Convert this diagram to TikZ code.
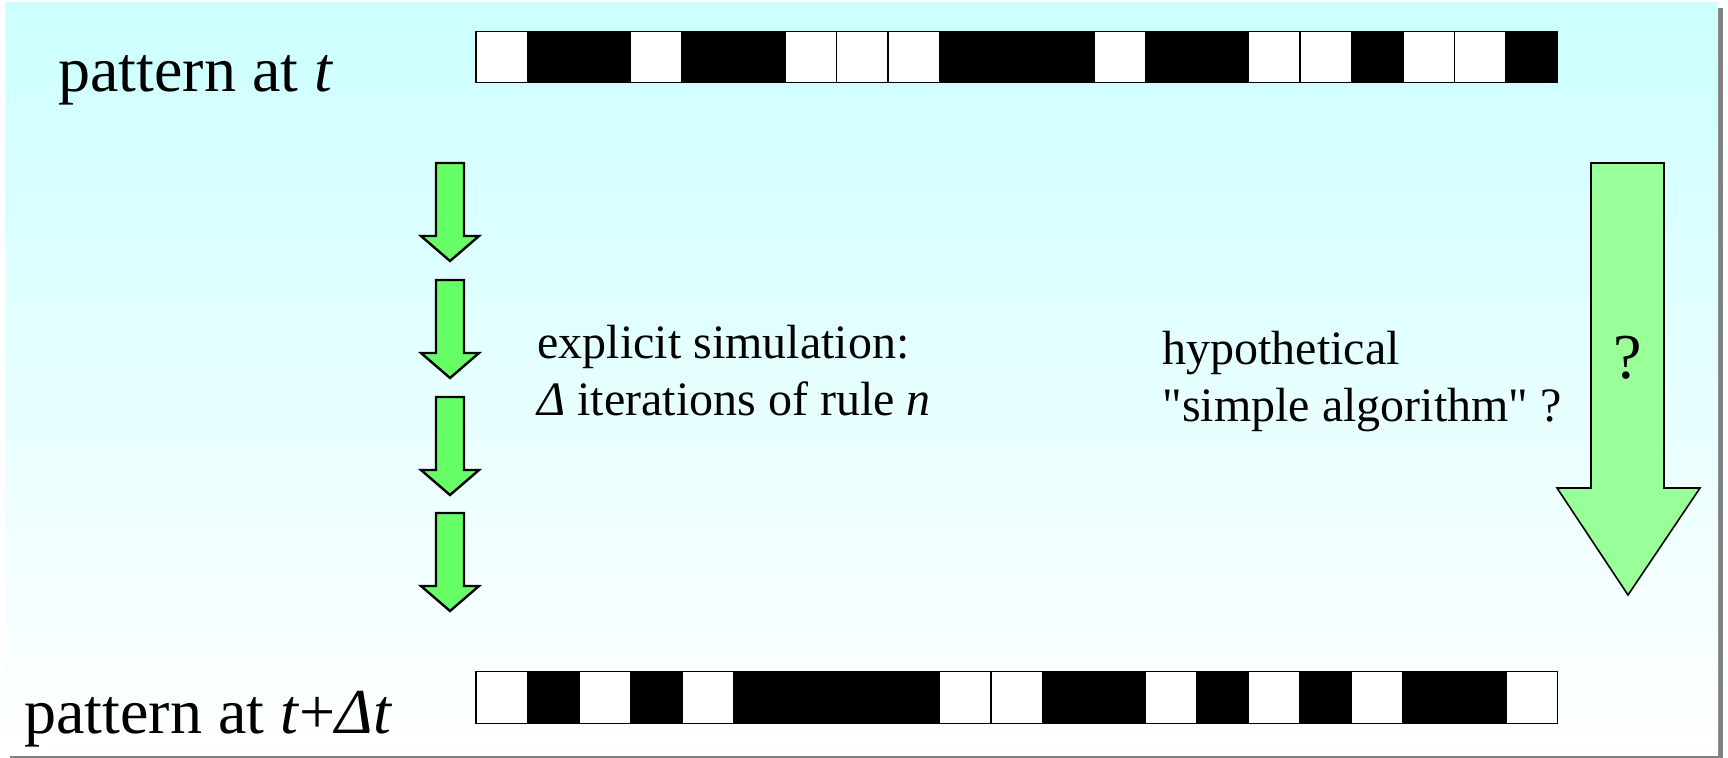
\documentclass[tikz,border=0pt]{standalone}
\usepackage{fontspec}
\setmainfont{Liberation Serif}
\usetikzlibrary{positioning}
\definecolor{slidetop}{RGB}{204,255,255}
\definecolor{slideshadow}{RGB}{128,128,128}
\definecolor{stepgreen}{RGB}{102,255,102}
\definecolor{leapgreen}{RGB}{153,255,153}
\tikzset{
    slide/.style={x=0.5pt, y=-0.5pt},
    cell/.style={draw, line width=0.6pt, minimum size=25.75pt, inner sep=0pt, outer sep=0pt},
    heading/.style={font=\fontsize{32}{36}\selectfont, inner sep=0pt, anchor=base west},
    note/.style={font=\fontsize{24}{28.5}\selectfont, align=left, inner sep=0pt, anchor=base west},
    steparrow/.style={draw, line width=1.2pt, fill=stepgreen, line join=miter},
    leaparrow/.style={draw, line width=0.8pt, fill=leapgreen, line join=miter},
}

\begin{document}
\begin{tikzpicture}[slide]
    \useasboundingbox (0,0) rectangle (1728,758);
    \fill[white] (0,0) rectangle (1728,758);
    \fill[slideshadow] (10,8) rectangle (1723,758);
    \shade[top color=slidetop, bottom color=white] (5,3) rectangle (1718,755);

    % the two rows of cells
    \foreach \c [count=\i from 0] in {white,black,black,white,black,black,white,white,white,black,black,black,white,black,black,white,white,black,white,white,black}
        \node[cell, fill=\c] (top\i) at ({476+51.5*(\i+0.5)},57) {};
    \foreach \c [count=\i from 0] in {white,black,white,black,white,black,black,black,black,white,white,black,black,white,black,white,black,white,black,black,white}
        \node[cell, fill=\c] (bot\i) at ({476+51.5*(\i+0.5)},697.5) {};

    \node[heading] (now)  at (58,92)  {pattern at \textit{t}};
    \node[heading] (later) at (24,733) {pattern at \textit{t}+\textit{Δt}};

    % step by step
    \foreach \y in {163,280,397,513}
        \draw[steparrow] (436,\y) -- (464,\y) -- (464,\y+73) -- (479,\y+73)
            -- (450,\y+98) -- (421,\y+73) -- (436,\y+73) -- cycle;
    \node[note] (sim) at (537,416) {explicit simulation:\\\textit{Δ} iterations of rule \textit{n}};

    % one jump
    \draw[leaparrow] (1591,163) -- (1664,163) -- (1664,488) -- (1700,488)
        -- (1628,595) -- (1557,488) -- (1591,488) -- cycle;
    \node[font=\fontsize{32}{36}\selectfont, inner sep=0pt] (ask) at (1628,358) {?};
    \node[note] (algo) at (1162,422) {hypothetical\\\textquotedbl simple algorithm\textquotedbl{} ?};
\end{tikzpicture}
\end{document}
